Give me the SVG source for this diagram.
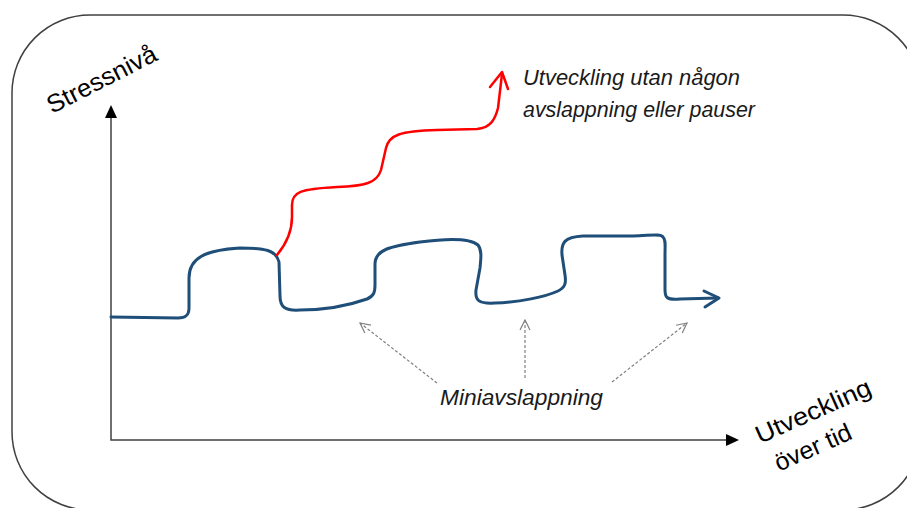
<svg xmlns="http://www.w3.org/2000/svg" width="907" height="508" viewBox="0 0 907 508">
<style>
.frame{fill:#fff;stroke:#404040;stroke-width:1.5}
.axis{fill:none;stroke:#404040;stroke-width:1.5}
.head{fill:#000}
.blue{fill:none;stroke:#1f4e79;stroke-width:3;stroke-linecap:round;stroke-linejoin:round}
.red{fill:none;stroke:#ff0000;stroke-width:2.5;stroke-linecap:round;stroke-linejoin:round}
.dash{fill:none;stroke:#808080;stroke-width:1.2;stroke-dasharray:3 2}
.lbl{font-family:"Liberation Sans",Arial,sans-serif;font-size:25px;fill:#000}
.it{font-family:"Liberation Sans",Arial,sans-serif;font-size:22px;font-style:italic;fill:#1a1a1a}
</style>
<defs>
<marker id="open" viewBox="0 0 12 12" refX="11" refY="6" markerWidth="12" markerHeight="12" markerUnits="userSpaceOnUse" orient="auto">
<path d="M1,1 L11,6 L1,11" fill="none" stroke="#808080" stroke-width="1.2"/>
</marker>
</defs>
<rect class="frame" x="12" y="15" width="909" height="495" rx="78" ry="78"/>
<g id="axes">
<path class="axis" d="M111,117 L111,440 L727,440"/>
<path class="head" d="M111,105 L117,118 L105,118 Z"/>
<path class="head" d="M739,440 L726,434 L726,446 Z"/>
</g>
<g id="connectors">
<path id="blue-curve" class="blue" d="M111,317 L178,318 C185,318 189,316 189,308 L189,278 C189,258 205,250 240,248 C265,248 276,250 279,262 L280,296 C280,307 285,311 300,310 C330,310 350,305 367,299 C374,296 375,292 375,285 L375,264 C375,250 390,246 420,242 C450,238 470,238 478,245 C482,250 481,258 480,268 L476,290 C475,300 478,304 495,303 C520,302 545,297 558,291 C566,287 566,282 565,275 L562,255 C561,243 564,237 583,236 L633,236 C648,236 660,233 663,237 C666,240 665,245 665,255 L665,290 C665,298 667,300 680,299 L718,298"/>
<path class="blue" d="M704,291 L719,298 L705,307"/>
<path id="red-curve" class="red" d="M277,255 C287,243 292,232 292,217 L292,205 C292,192 300,189 337,187 C365,186 377,183 381,170 L386,148 C389,135 400,131 437,130 L477,129 C490,128 495,120 498,108 L502,74"/>
<path class="red" d="M490,87 L502,72 L508,89"/>
<path class="dash" d="M437,383 L360,323" marker-end="url(#open)"/>
<path class="dash" d="M525,378 L525,320" marker-end="url(#open)"/>
<path class="dash" d="M612,382 L687,323" marker-end="url(#open)"/>
</g>
<g id="label-y">
<text class="lbl" transform="translate(52,114) rotate(-27)" textLength="120" lengthAdjust="spacingAndGlyphs">Stressnivå</text>
</g>
<g id="label-x">
<text class="lbl" transform="translate(760,444) rotate(-24)"><tspan x="0" y="0" textLength="124" lengthAdjust="spacingAndGlyphs">Utveckling</tspan><tspan x="6" y="33">över tid</tspan></text>
</g>
<g id="label-red">
<text class="it" x="523" y="85" textLength="217" lengthAdjust="spacingAndGlyphs">Utveckling utan någon</text>
<text class="it" x="523" y="117" textLength="232" lengthAdjust="spacingAndGlyphs">avslappning eller pauser</text>
</g>
<g id="label-mini">
<text class="it" x="440" y="405" textLength="163" lengthAdjust="spacingAndGlyphs">Miniavslappning</text>
</g>
</svg>
